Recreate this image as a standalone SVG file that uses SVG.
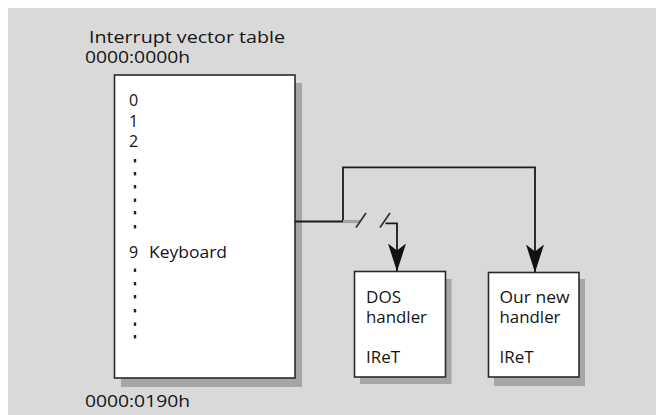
<svg xmlns="http://www.w3.org/2000/svg" width="656" height="415" viewBox="0 0 656 415">
<style>
text{font-family:"Open Sans","Liberation Sans",sans-serif;font-size:16px;fill:#141414}
.box{fill:#ffffff;stroke:#2a2a2a;stroke-width:1.6}
.shadow{fill:#a6a6a6}
.wire{fill:none;stroke:#1a1a1a;stroke-width:1.8}
.dot{fill:#222}
</style>
<defs>
<marker id="arrow" viewBox="0 0 28 18" refX="28" refY="9" markerWidth="28" markerHeight="18" markerUnits="userSpaceOnUse" orient="auto">
<path d="M0,0 L28,9 L0,18 L7,9 Z" fill="#111"/>
</marker>
</defs>
<rect x="0" y="0" width="656" height="415" fill="#ffffff"/>
<rect x="8" y="8" width="648" height="407" fill="#d9d9d9"/>

<g id="labels">
<text x="89" y="42.5" textLength="196" lengthAdjust="spacingAndGlyphs">Interrupt vector table</text>
<text x="85" y="63" textLength="105" lengthAdjust="spacingAndGlyphs">0000:0000h</text>
<text x="85" y="406.5" textLength="105" lengthAdjust="spacingAndGlyphs">0000:0190h</text>
</g>

<g id="ivt">
<rect class="shadow" x="121" y="83" width="181" height="304"/>
<rect class="box" x="114.5" y="75" width="180.5" height="303"/>
<text x="129" y="106">0</text>
<text x="129" y="127">1</text>
<text x="129" y="147">2</text>
<rect class="dot" x="133.8" y="159" width="2.4" height="3.4"/>
<rect class="dot" x="133.8" y="172" width="2.4" height="3.4"/>
<rect class="dot" x="133.8" y="185" width="2.4" height="3.4"/>
<rect class="dot" x="133.8" y="198.5" width="2.4" height="3.4"/>
<rect class="dot" x="133.8" y="211" width="2.4" height="3.4"/>
<rect class="dot" x="133.8" y="225" width="2.4" height="3.4"/>
<text x="129" y="258">9</text>
<text x="149" y="258" textLength="78" lengthAdjust="spacingAndGlyphs">Keyboard</text>
<rect class="dot" x="133.8" y="268.5" width="2.4" height="3.4"/>
<rect class="dot" x="133.8" y="282" width="2.4" height="3.4"/>
<rect class="dot" x="133.8" y="295" width="2.4" height="3.4"/>
<rect class="dot" x="133.8" y="309" width="2.4" height="3.4"/>
<rect class="dot" x="133.8" y="322.5" width="2.4" height="3.4"/>
<rect class="dot" x="133.8" y="335" width="2.4" height="3.4"/>
</g>

<g id="dos">
<rect class="shadow" x="360" y="279" width="91.5" height="105"/>
<rect class="box" x="354.5" y="271.5" width="91" height="105.5"/>
<text x="366" y="302.5" textLength="35" lengthAdjust="spacingAndGlyphs">DOS</text>
<text x="366" y="322.5" textLength="61" lengthAdjust="spacingAndGlyphs">handler</text>
<text x="366" y="362.5" textLength="34" lengthAdjust="spacingAndGlyphs">IReT</text>
</g>

<g id="newhandler">
<rect class="shadow" x="494" y="279" width="91" height="107"/>
<rect class="box" x="488.5" y="272.5" width="90.5" height="104.5"/>
<text x="499.5" y="302.5" textLength="70" lengthAdjust="spacingAndGlyphs">Our new</text>
<text x="499.5" y="322.5" textLength="61" lengthAdjust="spacingAndGlyphs">handler</text>
<text x="499.5" y="362.5" textLength="34" lengthAdjust="spacingAndGlyphs">IReT</text>
</g>

<g id="connectors">
<path class="wire" d="M295,221.5 H343 V167.3 H535 V272.5" marker-end="url(#arrow)"/>
<line x1="343" y1="221.5" x2="360" y2="221.5" stroke="#a3a3a3" stroke-width="3.2"/>
<line x1="356" y1="227.5" x2="366" y2="213" stroke="#2a2a2a" stroke-width="1.6"/>
<line x1="380" y1="227.5" x2="390" y2="213" stroke="#2a2a2a" stroke-width="1.6"/>
<path class="wire" d="M385.5,223.3 H397 V271.5" marker-end="url(#arrow)"/>
</g>
</svg>
